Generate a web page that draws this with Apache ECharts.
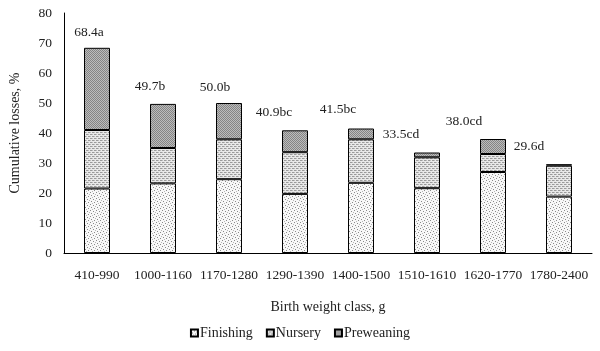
<!DOCTYPE html>
<html>
<head>
<meta charset="utf-8">
<script src="https://cdn.jsdelivr.net/npm/echarts@6/dist/echarts.min.js"></script>
<style>
  html, body { margin: 0; padding: 0; background: #fff; }
  #chart { width: 600px; height: 351px; }
</style>
</head>
<body>
<div id="chart"></div>
<script>
// birth weight classes
var categories = ['410-990', '1000-1160', '1170-1280', '1290-1390', '1400-1500', '1510-1610', '1620-1770', '1780-2400'];
// losses per stage, %
var finishing = [21.5, 23.2, 24.6, 19.7, 23.4, 21.6, 27.0, 18.8];
var nursery = [19.5, 11.8, 13.3, 13.9, 14.5, 10.3, 6.0, 10.3];
var preweaning = [27.4, 14.7, 12.1, 7.3, 3.6, 1.6, 5.0, 0.5];
var totalLabels = ['68.4a', '49.7b', '50.0b', '40.9bc', '41.5bc', '33.5cd', '38.0cd', '29.6d'];
var yTicks = [0, 10, 20, 30, 40, 50, 60, 70, 80];

// label nudges (the original labels sit left of bar centres)
var labelShift = [[-8, -3], [-13, -5], [-14, -4], [-21, -6], [-23, -7], [-26, -6], [-29, -6], [-30, -6]];

var FONT = '"Liberation Serif", "Times New Roman", serif';
var FS = 13.5;

// small tiled fill patterns, similar to the excel hatch fills
function makePattern(size, draw) {
  var c = document.createElement('canvas');
  c.width = size; c.height = size;
  var ctx = c.getContext('2d');
  draw(ctx);
  return c;
}
var finPat = makePattern(6, function (ctx) {
  ctx.fillStyle = '#f8f8f8'; ctx.fillRect(0, 0, 6, 6);
  ctx.fillStyle = '#8a8a8a';
  ctx.fillRect(0, 0, 1, 1); ctx.fillRect(3, 1, 1, 1);
  ctx.fillRect(1, 3, 1, 1); ctx.fillRect(4, 4, 1, 1);
  ctx.fillStyle = '#b8b8b8';
  ctx.fillRect(5, 2, 1, 1); ctx.fillRect(2, 5, 1, 1);
});
var nurPat = makePattern(4, function (ctx) {
  ctx.fillStyle = '#e8e8e8'; ctx.fillRect(0, 0, 4, 4);
  ctx.fillStyle = '#9a9a9a';
  ctx.fillRect(0, 0, 2, 1); ctx.fillRect(2, 2, 2, 1);
  ctx.fillStyle = '#bcbcbc';
  ctx.fillRect(0, 2, 1, 1); ctx.fillRect(2, 0, 1, 1);
});
var prePat = makePattern(2, function (ctx) {
  ctx.fillStyle = '#bcbcbc'; ctx.fillRect(0, 0, 2, 2);
  ctx.fillStyle = '#848484';
  ctx.fillRect(0, 0, 1, 1); ctx.fillRect(1, 1, 1, 1);
});

var chart = echarts.init(document.getElementById('chart'), null, { renderer: 'canvas' });

function barSeries(name, data, pat) {
  return {
    name: name,
    type: 'bar',
    stack: 'total',
    barWidth: 26,
    data: data,
    itemStyle: {
      color: { image: pat, repeat: 'repeat' },
      borderColor: '#000',
      borderWidth: 1
    },
    emphasis: { disabled: true }
  };
}

var topSeries = barSeries('Preweaning', preweaning.map(function (v, i) {
  return {
    value: v,
    label: { offset: labelShift[i] }
  };
}), prePat);
topSeries.label = {
  show: true,
  position: 'top',
  distance: 5,
  fontFamily: FONT,
  fontSize: FS,
  color: '#222',
  formatter: function (p) { return totalLabels[p.dataIndex]; }
};

var option = {
  animation: false,
  backgroundColor: '#fff',
  textStyle: { fontFamily: FONT },
  grid: { left: 57, right: 8, top: 13, bottom: 98, containLabel: false },
  legend: {
    bottom: 6,
    left: 'center',
    itemWidth: 7,
    itemHeight: 7,
    itemGap: 13,
    icon: 'rect',
    textStyle: { fontFamily: FONT, fontSize: 14, color: '#222', padding: [0, 0, 0, -3] },
    data: ['Finishing', 'Nursery', 'Preweaning']
  },
  xAxis: {
    type: 'category',
    data: categories,
    name: 'Birth weight class, g',
    nameLocation: 'middle',
    nameGap: 47,
    nameTextStyle: { fontFamily: FONT, fontSize: 14, color: '#222' },
    axisLine: { lineStyle: { color: '#000', width: 1 } },
    axisTick: { show: false },
    axisLabel: { fontFamily: FONT, fontSize: FS, color: '#222', margin: 15, interval: 0 }
  },
  yAxis: {
    type: 'value',
    min: yTicks[0],
    max: yTicks[yTicks.length - 1],
    interval: 10,
    name: 'Cumulative losses, %',
    nameLocation: 'middle',
    nameGap: 42,
    nameTextStyle: { fontFamily: FONT, fontSize: 14, color: '#222' },
    axisLine: { show: true, lineStyle: { color: '#000', width: 1 } },
    axisTick: { show: false },
    splitLine: { show: false },
    axisLabel: { fontFamily: FONT, fontSize: FS, color: '#222', margin: 12 }
  },
  series: [
    barSeries('Finishing', finishing, finPat),
    barSeries('Nursery', nursery, nurPat),
    topSeries
  ]
};

chart.setOption(option);
</script>
</body>
</html>
